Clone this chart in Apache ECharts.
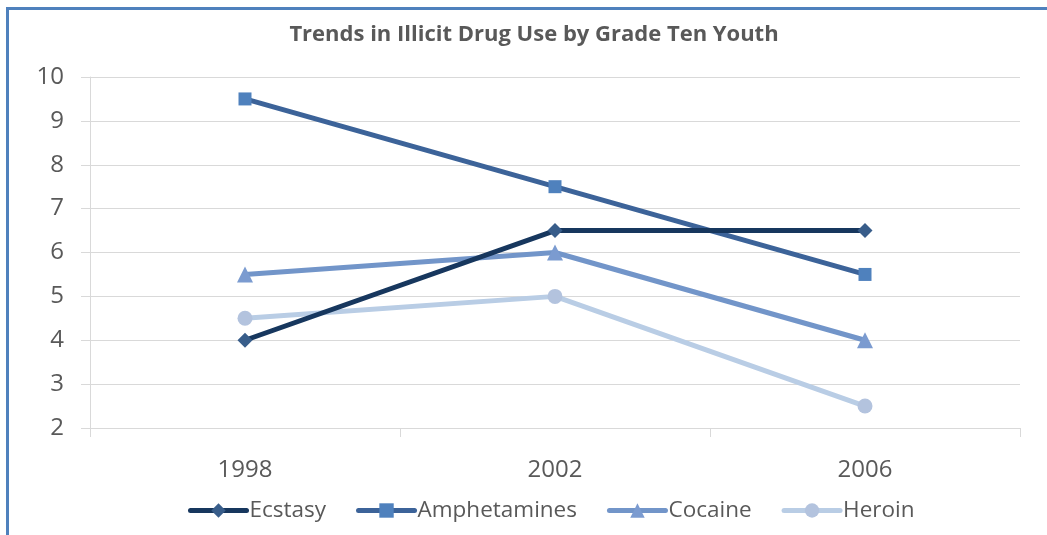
<!DOCTYPE html>
<html><head><meta charset="utf-8">
<script src="https://cdn.jsdelivr.net/npm/echarts@6/dist/echarts.min.js"></script>
<style>
html,body{margin:0;padding:0;background:#fff;}
#frame{position:absolute;left:6px;top:7px;width:1047px;height:535px;border-left:3px solid #4f81bd;border-top:3px solid #4f81bd;box-sizing:border-box;}
#c{position:absolute;left:0;top:0;width:1047px;height:535px;}
</style></head>
<body>
<div id="frame"></div>
<div id="c"></div>
<script>
var categories = ['1998', '2002', '2006'];
var ecstasy = [4, 6.5, 6.5];
var amphetamines = [9.5, 7.5, 5.5];
var cocaine = [5.5, 6, 4];
var heroin = [4.5, 5, 2.5];
var yTicks = {min: 2, max: 10, interval: 1};

var font = 'Open Sans';
var chart = echarts.init(document.getElementById('c'), null, {renderer: 'canvas'});
function s(name, data, lineColor, markColor, symbol, size) {
  return {
    name: name, type: 'line', data: data, symbol: symbol, symbolSize: size,
    lineStyle: {color: lineColor, width: 5, cap: 'round'},
    itemStyle: {color: markColor, borderWidth: 0},
    emphasis: {disabled: true}, animation: false
  };
}
chart.setOption({
  animation: false,
  title: {
    text: 'Trends in Illicit Drug Use by Grade Ten Youth',
    left: 529, top: 19, textAlign: 'center',
    textStyle: {fontFamily: font, fontSize: 22, fontWeight: 'bold', color: '#595959'}
  },
  grid: {left: 90, right: 27, top: 77, bottom: 107, containLabel: false},
  legend: {
    bottom: 8, left: 183, itemWidth: 56, itemHeight: 18, itemGap: 30,
    lineStyle: {width: 5, cap: 'round'},
    textStyle: {fontFamily: font, fontSize: 22.5, color: '#595959', padding: [0, 0, 0, -2]},
    data: ['Ecstasy', 'Amphetamines', 'Cocaine', 'Heroin']
  },
  xAxis: {
    type: 'category', data: categories, boundaryGap: true,
    axisLine: {lineStyle: {color: '#d9d9d9', width: 1}},
    axisTick: {show: true, length: 9, lineStyle: {color: '#d9d9d9'}},
    axisLabel: {fontFamily: font, fontSize: 24, color: '#595959', margin: 30},
    splitLine: {show: false}
  },
  yAxis: {
    type: 'value', min: yTicks.min, max: yTicks.max, interval: yTicks.interval,
    axisLine: {show: true, lineStyle: {color: '#d9d9d9'}},
    axisTick: {show: true, length: 9, lineStyle: {color: '#d9d9d9'}},
    axisLabel: {fontFamily: font, fontSize: 24, color: '#595959', margin: 26},
    splitLine: {show: true, lineStyle: {color: '#d9d9d9', width: 1}}
  },
  series: [
    s('Heroin', heroin, '#b9cde5', '#b3c3de', 'circle', 15),
    s('Cocaine', cocaine, '#7295c9', '#7b9bd0', 'triangle', 16),
    s('Amphetamines', amphetamines, '#3c6399', '#4f81bd', 'rect', 13),
    s('Ecstasy', ecstasy, '#17375e', '#385d8a', 'diamond', 15)
  ]
});
</script>
</body></html>
